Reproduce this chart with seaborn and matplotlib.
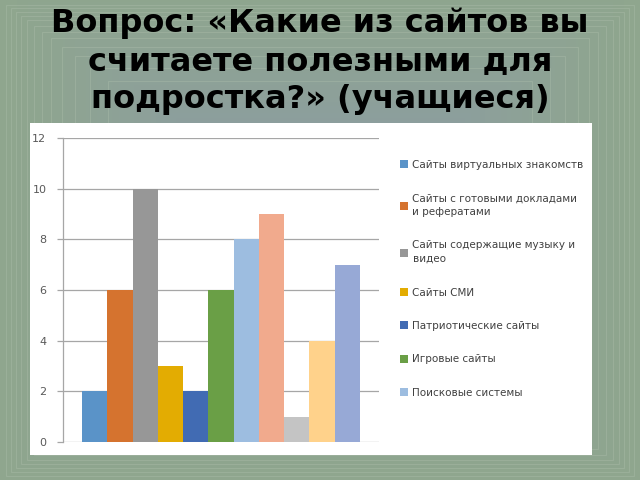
import textwrap
import numpy as np
import pandas as pd
import matplotlib
matplotlib.use("Agg")
import matplotlib.pyplot as plt
import seaborn as sns
from matplotlib.patches import Rectangle

# --- data ---
title = "Вопрос: «Какие из сайтов вы\nсчитаете полезными для\nподростка?» (учащиеся)"
sites = [
    "Сайты виртуальных знакомств",
    "Сайты с готовыми докладами и рефератами",
    "Сайты содержащие музыку и видео",
    "Сайты СМИ",
    "Патриотические сайты",
    "Игровые сайты",
    "Поисковые системы",
    "Ряд 8",   # names of the last four are cut off in the slide legend
    "Ряд 9",
    "Ряд 10",
    "Ряд 11",
]
votes = [2, 6, 10, 3, 2, 6, 8, 9, 1, 4, 7]
colors = ["#5a93c8", "#d5732f", "#979797", "#e3ac02", "#416bb3", "#6a9f46",
          "#9dbde0", "#f1aa8d", "#c4c4c4", "#ffd28b", "#97a9d6"]
yticks = [0, 2, 4, 6, 8, 10, 12]
n_legend = 7  # legend on the slide is truncated after 7 entries

sns.set_theme(style="white")
plt.rcParams["font.family"] = ["DejaVu Sans"]

fig = plt.figure(figsize=(6.4, 4.8), dpi=100)

# slide background: green frame fading to blue-grey, concentric rectangles
bg = fig.add_axes([0, 0, 1, 1], zorder=-2)
yy, xx = np.mgrid[0:480, 0:640]
d = np.maximum(np.abs(xx - 320) / 320, np.abs(yy - 230) / 250)
t = np.clip((d - 0.2) / 0.75, 0, 1) ** 0.8
green = np.array([0x8f, 0xa6, 0x8e]) / 255
blue = np.array([0x8b, 0x9a, 0xa7]) / 255
img = blue[None, None, :] * (1 - t[..., None]) + green[None, None, :] * t[..., None]
bg.imshow(img, extent=[0, 640, 480, 0], aspect="auto")
for inset in [6, 11, 16, 21, 27, 34, 42, 51, 62, 75, 90, 108]:
    bg.add_patch(Rectangle((inset, inset * 0.75), 640 - 2 * inset, 480 - 1.5 * inset,
                           fill=False, ec="#a9bba8", lw=0.8, alpha=0.45))
bg.add_patch(Rectangle((30, 123), 562, 332, fc="white", ec="none", zorder=3))
bg.set_xlim(0, 640)
bg.set_ylim(480, 0)
bg.axis("off")

fig.text(0.5, 0.872, title, ha="center", va="center", fontsize=23,
         fontweight="bold", color="black", linespacing=1.3)

# chart
ax = fig.add_axes([63 / 640, 38 / 480, 316 / 640, 304 / 480])
df = pd.DataFrame({"group": [""] * len(sites), "site": sites, "votes": votes})
sns.barplot(data=df, x="group", y="votes", hue="site", hue_order=sites,
            palette=dict(zip(sites, colors)), width=0.88, gap=0,
            saturation=1, ax=ax, legend=True, edgecolor="none", linewidth=0)

ax.set_xlim(-0.5, 0.5)
ax.set_ylim(0, 12)
ax.set_yticks(yticks)
ax.set_xticks([])
ax.set_xlabel("")
ax.set_ylabel("")
ax.yaxis.grid(True, color="#a6a6a6", lw=0.9)
ax.set_axisbelow(True)
for s in ["top", "right", "bottom"]:
    ax.spines[s].set_visible(False)
ax.spines["left"].set_color("#a6a6a6")
ax.spines["left"].set_linewidth(0.9)
ax.tick_params(axis="y", left=True, length=4, width=0.9, color="#a6a6a6",
               pad=8, labelsize=8, labelcolor="#595959")

handles, labels = ax.get_legend_handles_labels()
ax.get_legend().remove()
leg = fig.legend(handles[:n_legend], [textwrap.fill(l, 27) for l in labels[:n_legend]],
                 loc="upper left", bbox_to_anchor=(400 / 640, 1 - 160 / 480),
                 frameon=False, fontsize=7.5, labelcolor="#404040",
                 handlelength=0.8, handleheight=0.8, handletextpad=0.4,
                 labelspacing=2.25, borderpad=0, borderaxespad=0)
for txt in leg.get_texts():
    txt.set_linespacing(1.45)

fig.savefig("out.png", dpi=100)
